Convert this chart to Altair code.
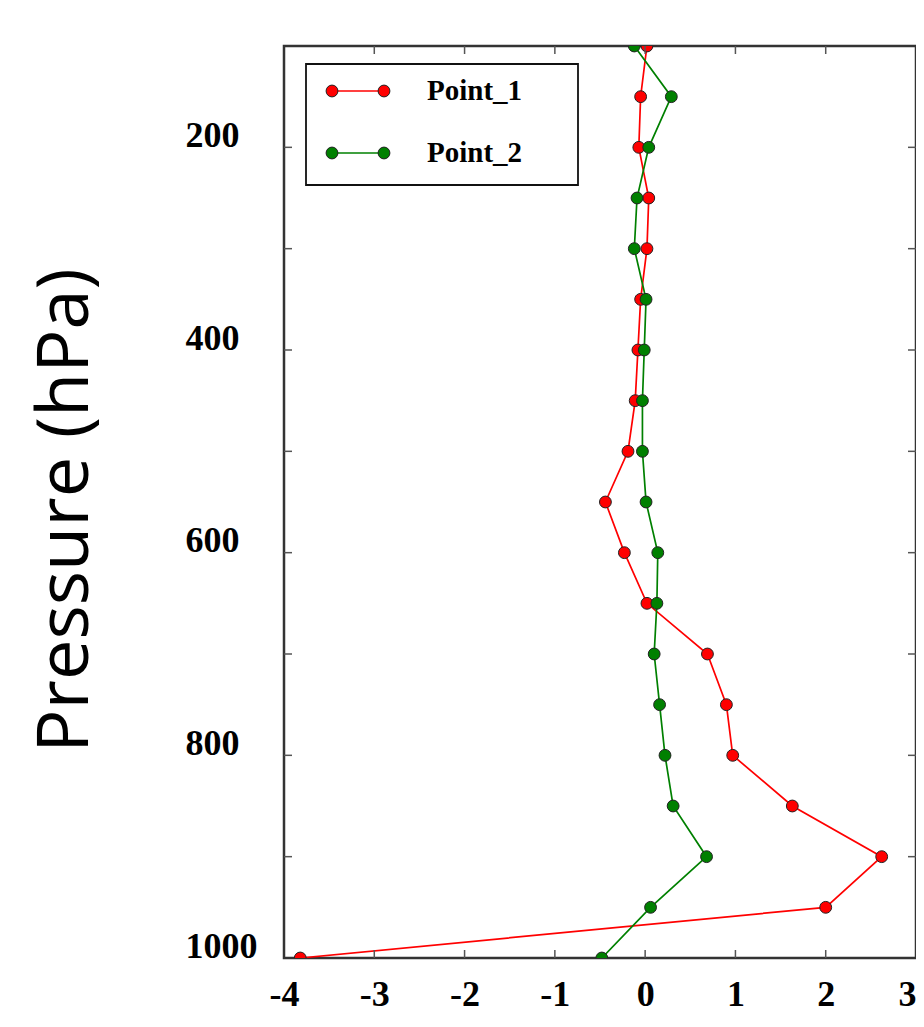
import altair as alt
import pandas as pd

# ---- data ----
pressure = [100, 150, 200, 250, 300, 350, 400, 450, 500, 550,
            600, 650, 700, 750, 800, 850, 900, 950, 1000]
point_1 = [0.02, -0.05, -0.07, 0.04, 0.02, -0.05, -0.08, -0.11, -0.19, -0.44,
           -0.23, 0.02, 0.69, 0.90, 0.97, 1.63, 2.62, 2.00, -3.82]
point_2 = [-0.12, 0.29, 0.04, -0.09, -0.12, 0.01, -0.01, -0.03, -0.03, 0.01,
           0.14, 0.13, 0.10, 0.16, 0.22, 0.31, 0.68, 0.06, -0.48]
series_names = ["Point_1", "Point_2"]
series_colors = ["#ff0000", "#008000"]
y_label_values = [200, 400, 600, 800, 1000]
y_tick_values = [200, 300, 400, 500, 600, 700, 800, 900]
x_label_values = [-4, -3, -2, -1, 0, 1, 2, 3]
x_tick_values = [-3, -2, -1, 0, 1, 2]

# ---- layout ----
W, H = 632, 912
TICK = 8
SERIF = "Liberation Serif"

rows = []
for name, vals in zip(series_names, [point_1, point_2]):
    for p, v in zip(pressure, vals):
        rows.append({"series": name, "pressure": p, "value": v})
df = pd.DataFrame(rows)

xscale = alt.Scale(domain=[-4, 3], nice=False, zero=False)
yscale = alt.Scale(domain=[100, 1000], reverse=True, nice=False, zero=False)
cscale = alt.Scale(domain=series_names, range=series_colors)

x_axis = alt.Axis(values=x_label_values, title=None, domain=False, ticks=False,
                  tickSize=0, grid=False, labelFont=SERIF, labelFontWeight="bold",
                  labelFontSize=36, labelColor="#000", labelPadding=47,
                  labelBaseline="alphabetic", labelExpr="datum.value + ''",
                  labelAlign={"expr": "datum.value == 3 ? 'right' : 'center'"},
                  labelFlush=False, labelOverlap=False)
y_axis = alt.Axis(values=y_label_values, title="Pressure (hPa)", titleFont="Open Sans",
                  titleFontSize=72, titleFontWeight="normal", titleAngle=270,
                  titleX=-197, titleY=464, titleAlign="center",
                  titleBaseline="alphabetic", titleColor="#000",
                  domain=False, ticks=False, tickSize=0, grid=False,
                  labelFont=SERIF, labelFontWeight="bold", labelFontSize=36,
                  labelColor="#000", labelAlign="left", labelPadding=99,
                  labelBaseline="middle", labelOffset=-12, labelFlush=False,
                  labelOverlap=False, labelExpr="datum.value + ''")

X = lambda f: alt.X(f, scale=xscale, axis=x_axis)
Y = lambda f: alt.Y(f, scale=yscale, axis=y_axis)

layers = []
for i, name in enumerate(series_names):
    base = alt.Chart(df).transform_filter(alt.datum.series == name)
    line = base.mark_line(strokeWidth=1.7, clip=True).encode(
        x=X("value:Q"), y=Y("pressure:Q"),
        color=alt.Color("series:N", scale=cscale, legend=None),
        order=alt.Order("pressure:Q"),
    )
    pts = base.mark_point(shape="circle", filled=True, size=140, opacity=1,
                          clip=True).encode(
        x=X("value:Q"), y=Y("pressure:Q"),
        fill=alt.Fill("series:N", scale=cscale, legend=None),
        stroke=alt.value("#222222"),
        strokeWidth=alt.value(1),
    )
    layers += [line, pts]

# inward ticks on all four sides
yt = pd.DataFrame({"pressure": y_tick_values})
xt = pd.DataFrame({"value": x_tick_values})
tick_style = dict(color="#555555", strokeWidth=1.5)
left_ticks = alt.Chart(yt).mark_rule(**tick_style).encode(
    y=Y("pressure:Q"), x=alt.value(0), x2=alt.value(TICK))
right_ticks = alt.Chart(yt).mark_rule(**tick_style).encode(
    y=Y("pressure:Q"), x=alt.value(W - TICK), x2=alt.value(W))
bottom_ticks = alt.Chart(xt).mark_rule(**tick_style).encode(
    x=X("value:Q"), y=alt.value(H - TICK), y2=alt.value(H))
top_ticks = alt.Chart(xt).mark_rule(**tick_style).encode(
    x=X("value:Q"), y=alt.value(0), y2=alt.value(TICK))

# legend (framed box with line+marker samples)
leg_df = pd.DataFrame({"series": series_names})
leg_layers = [
    alt.Chart(leg_df.head(1)).mark_rect(fill="white", stroke="#111111", strokeWidth=1.8).encode(
        x=alt.value(22), x2=alt.value(294), y=alt.value(18), y2=alt.value(139))
]
for i, (name, col) in enumerate(zip(series_names, series_colors)):
    yy = 45 + 62 * i
    b = alt.Chart(leg_df).transform_filter(alt.datum.series == name)
    leg_layers.append(b.mark_rule(color=col, strokeWidth=1.7).encode(
        x=alt.value(48), x2=alt.value(100), y=alt.value(yy)))
    for xx in (48, 100):
        leg_layers.append(b.mark_point(shape="circle", filled=True, size=140, opacity=1,
                                       fill=col, stroke="#222222", strokeWidth=1).encode(
            x=alt.value(xx), y=alt.value(yy)))
    leg_layers.append(b.mark_text(font=SERIF, fontWeight="bold", fontSize=29, align="left",
                                  baseline="middle", color="#000").encode(
        text="series:N", x=alt.value(143), y=alt.value(yy)))

chart = alt.layer(*layers, left_ticks, right_ticks, bottom_ticks, top_ticks,
                  *leg_layers).properties(
    width=W, height=H,
    autosize=alt.AutoSizeParams(type="none"),
    padding={"left": 276, "top": 38, "right": 0, "bottom": 56},
    background="white",
).configure_view(stroke="#333333", strokeWidth=2.5)

chart.save("out.html", embed_options={"renderer": "svg", "actions": False})
